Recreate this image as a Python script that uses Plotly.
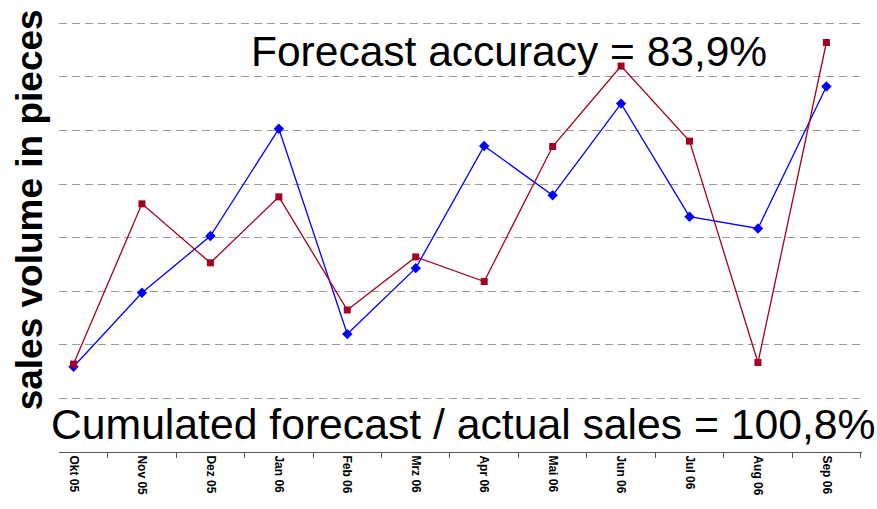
import plotly.graph_objects as go

# Monthly sales volume, October 2005 to September 2006
months = ["Okt 05", "Nov 05", "Dez 05", "Jan 06", "Feb 06", "Mrz 06",
          "Apr 06", "Mai 06", "Jun 06", "Jul 06", "Aug 06", "Sep 06"]
forecast = [164, 463, 353, 476, 265, 364, 318, 570, 720, 580, 167, 764]
actual_sales = [159, 297, 403, 603, 220, 343, 571, 479, 650, 439, 417, 682]

accuracy_text = "Forecast accuracy = 83,9%"
cumulated_text = "Cumulated forecast / actual sales = 100,8%"
y_title = "sales volume in pieces"

FONT = "Liberation Sans, Arial, sans-serif"

fig = go.Figure()
fig.add_trace(go.Scatter(
    x=months, y=actual_sales, mode="lines+markers", name="actual sales",
    line=dict(color="#0000ff", width=1.3),
    marker=dict(symbol="diamond", size=8, color="#0000ff"),
))
fig.add_trace(go.Scatter(
    x=months, y=forecast, mode="lines+markers", name="forecast",
    line=dict(color="#a50021", width=1.3),
    marker=dict(symbol="square", size=7, color="#a50021"),
))

fig.update_layout(
    width=877, height=509,
    margin=dict(l=59, r=15, t=20, b=57),
    paper_bgcolor="white", plot_bgcolor="white",
    showlegend=False,
    font=dict(family=FONT, color="black"),
    xaxis=dict(
        type="category", range=[-0.212, 11.52],
        showline=True, linecolor="#555555", linewidth=1,
        ticks="outside", tickson="boundaries", ticklen=5,
        tickcolor="#555555", tickwidth=1,
        tickangle=90, showgrid=False,
        tickfont=dict(family=FONT, size=12, color="black", weight="bold"),
    ),
    yaxis=dict(
        range=[0, 806], tickvals=[100, 200, 300, 400, 500, 600, 700, 800],
        showticklabels=False,
        showgrid=True, gridcolor="#9a9a9a", gridwidth=1, griddash="8px,5px",
        zeroline=False, showline=False, ticks="",
    ),
    annotations=[
        dict(text=accuracy_text, xref="paper", yref="paper",
             x=0.236, y=0.928, xanchor="left", yanchor="middle",
             showarrow=False, font=dict(family=FONT, size=42.5, color="black")),
        dict(text=cumulated_text, xref="paper", yref="paper",
             x=-0.0125, y=0.065, xanchor="left", yanchor="middle",
             showarrow=False, font=dict(family=FONT, size=42.7, color="black")),
        dict(text=y_title, xref="paper", yref="paper",
             x=-0.037, y=0.56, xanchor="center", yanchor="middle",
             textangle=-90, showarrow=False,
             font=dict(family=FONT, size=37, color="black", weight="bold")),
    ],
)

fig.write_html("out.html")
